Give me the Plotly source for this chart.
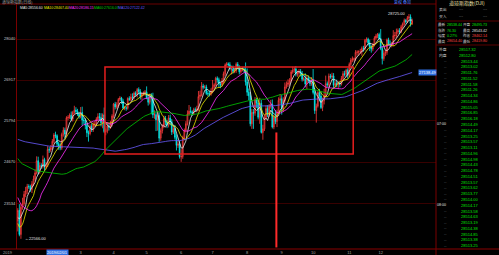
import plotly.graph_objects as go
import pandas as pd

W, H = 499, 255

# ---------------- data ----------------
hist_close = [
    25019, 25064, 25120, 25199, 25064, 25058, 25044, 25241, 25414, 25527, 25451, 25307, 25415,
    25333, 25326, 25463, 25502, 25629, 25583, 25509, 25313, 25187, 25299, 25162, 25558, 25669,
    25758, 25822, 25733, 25656, 25790, 26050, 26065, 26124, 25987, 25965,
    25952, 25974, 25995, 25916, 25857, 25971, 26145, 26154, 26145, 26062, 26246, 26405, 26657,
    26562, 26492, 26385, 26440, 26439, 26458,
    26651, 26774, 26828, 26627, 26447, 26486, 26431, 25598, 25053, 25340, 25250, 25798, 25706,
    25379, 25444, 25317, 25191, 24584, 24985, 24688, 24443, 24874, 25116,
    25380, 25271, 25462, 25636, 26180, 26191, 25989, 25387, 25287, 25080, 25290, 25413, 25017,
    24465, 24465, 24286, 24640, 24748, 25366, 25339, 25539,
    25826, 25027, 24947, 24389, 24424, 24370, 24527, 24597, 24100, 24101, 23592, 23675, 23324,
    22860, 22446, 21792, 22878, 23138, 23062, 23327,
]

close = [
    23346, 22686, 23433, 23531, 23787, 23879, 24001, 23996, 23910, 24066, 24207, 24370, 24706, 24405, 24575, 24554, 24737, 24528, 24580, 25014, 24999,
    25064, 25239, 25411, 25390, 25169, 25106, 25053, 25425, 25543, 25439, 25883, 25891, 25954, 25850, 26031, 26091, 26057, 25985, 25916,
    26026, 25819, 25806, 25673, 25473, 25450, 25650, 25554, 25702, 25709, 25849, 25914, 25887, 25745, 25962, 25502, 25516, 25657, 25625, 25717, 25929,
    26258, 26180, 26219, 26385, 26425, 26341, 26150, 26157, 26143, 26412, 26384, 26452, 26450, 26559, 26511, 26656, 26597, 26462, 26543, 26554, 26592,
    26430, 26307, 26505, 26438, 25965, 25968, 25828, 25942, 25324, 25532, 25648, 25862, 25764, 25679, 25877, 25776, 25490, 25585, 25347, 25126, 25169, 24815,
    24819, 25332, 25539, 25720, 25984, 26062, 26048, 26004, 26106, 26090, 26112, 26465, 26504, 26753, 26719, 26727, 26548, 26537, 26526, 26600,
    26717, 26786, 26966, 26922, 26806, 26783, 26860, 27088, 27332, 27359, 27335, 27219, 27223, 27154, 27171, 27349, 27270, 27140, 27192, 27221, 27198, 26864,
    26583, 26485, 25718, 26030, 26008, 26378, 26287, 25897, 26280, 25480, 25579, 25886, 26136, 25962, 26202, 26253, 25629, 25899, 25778, 26036, 26363, 26403,
    26118, 26355, 26728, 26797, 26836, 26909, 27137, 27182, 27220, 27076, 27111, 27147, 27095, 26935, 26949, 26808, 26970, 26891, 26820, 26917,
    26573, 26079, 26201, 26573, 26478, 26164, 26347, 26497, 26817, 26787, 27024, 27001, 27026, 26770, 26828, 26788, 26834, 26806, 26958, 27091, 27071, 27186, 27046,
    27347, 27462, 27492, 27493, 27675, 27681, 27691, 27691, 27784, 27782, 28005, 28036, 27934, 27821, 27766, 27876, 28066, 28122, 28164, 28051,
    27783, 27503, 27650, 27677, 28015, 27910, 27881, 27911, 28132, 28135, 28235, 28268, 28240, 28377, 28455, 28551, 28516, 28622, 28645, 28462, 28538,
]

open_ = [
    23058, 23346, 22686, 23433, 23531, 23787, 23879, 24001, 23996, 23910, 24066, 24207, 24370, 24706, 24405, 24575, 24554, 24737, 24528, 24580, 25014,
    24999, 25064, 25239, 25411, 25390, 25169, 25106, 25053, 25425, 25543, 25439, 25883, 25891, 25954, 25850, 26031, 26091, 26057, 25985,
    25916, 26026, 25819, 25806, 25673, 25473, 25450, 25650, 25554, 25702, 25709, 25849, 25914, 25887, 25745, 25962, 25502, 25516, 25657, 25625, 25717,
    25929, 26258, 26180, 26219, 26385, 26425, 26341, 26150, 26157, 26143, 26412, 26384, 26452, 26450, 26559, 26511, 26656, 26597, 26462, 26543, 26554,
    26592, 26430, 26307, 26505, 26438, 25965, 25968, 25828, 25942, 25324, 25532, 25648, 25862, 25764, 25679, 25877, 25776, 25490, 25585, 25347, 25126, 25169,
    24815, 24819, 25332, 25539, 25720, 25984, 26062, 26048, 26004, 26106, 26090, 26112, 26465, 26504, 26753, 26719, 26727, 26548, 26537, 26526,
    26600, 26717, 26786, 26966, 26922, 26806, 26783, 26860, 27088, 27332, 27359, 27335, 27219, 27223, 27154, 27171, 27349, 27270, 27140, 27192, 27221, 27198,
    26864, 26583, 26485, 25718, 26030, 26008, 26378, 26287, 25897, 26280, 25480, 25579, 25886, 26136, 25962, 26202, 26253, 25629, 25899, 25778, 26036, 26363,
    26403, 26118, 26355, 26728, 26797, 26836, 26909, 27137, 27182, 27220, 27076, 27111, 27147, 27095, 26935, 26949, 26808, 26970, 26891, 26820,
    26917, 26573, 26079, 26201, 26573, 26478, 26164, 26347, 26497, 26817, 26787, 27024, 27001, 27026, 26770, 26828, 26788, 26834, 26806, 26958, 27091, 27071, 27186,
    27046, 27347, 27462, 27492, 27493, 27675, 27681, 27691, 27691, 27784, 27782, 28005, 28036, 27934, 27821, 27766, 27876, 28066, 28122, 28164,
    28051, 27783, 27503, 27650, 27677, 28015, 27910, 27881, 27911, 28132, 28135, 28235, 28268, 28240, 28377, 28455, 28551, 28516, 28622, 28645, 28462,
]

wick_up = [
    60, 170, 80, 160, 90, 110, 70, 60, 50, 80, 90, 100, 120, 110, 80, 60, 110, 50, 80, 90, 70,
    70, 60, 50, 90, 40, 60, 80, 50, 80, 70, 40, 60, 50, 100, 40, 120, 80, 70, 60,
    150, 160, 70, 60, 60, 60, 50, 80, 60, 80, 50, 90, 100, 120, 40, 200, 70, 90, 60, 80, 50,
    30, 60, 90, 40, 50, 30, 60, 50, 40, 30, 60, 90, 100, 40, 50, 40, 60, 70, 30, 50, 50,
    150, 60, 40, 50, 130, 120, 80, 100, 90, 60, 60, 80, 70, 60, 80, 90, 70, 80, 100, 80, 70, 90,
    200, 60, 50, 70, 100, 170, 120, 40, 50, 60, 100, 150, 120, 110, 60, 50, 60, 70, 80, 90,
    200, 40, 40, 50, 60, 50, 110, 60, 40, 50, 40, 70, 60, 90, 60, 50, 60, 50, 40, 50, 50, 200,
    370, 100, 100, 90, 90, 70, 50, 100, 150, 90, 110, 80, 80, 90, 60, 120, 130, 60, 190, 70, 80, 130,
    100, 90, 120, 80, 100, 60, 50, 100, 60, 80, 60, 70, 70, 70, 60, 150, 80, 70, 90, 80,
    300, 120, 70, 40, 100, 120, 90, 180, 220, 60, 70, 60, 90, 80, 60, 100, 50, 50, 70, 70, 80, 40, 50,
    50, 60, 70, 40, 60, 50, 40, 80, 50, 70, 40, 50, 40, 90, 50, 60, 50, 60, 40, 50,
    260, 60, 80, 60, 40, 60, 90, 50, 150, 100, 90, 60, 70, 50, 40, 50, 40, 50, 80, 70, 60,
]

wick_dn = [
    290, 50, 120, 70, 60, 80, 90, 60, 60, 90, 60, 50, 40, 80, 60, 70, 60, 100, 60, 50, 80,
    60, 50, 60, 70, 90, 100, 60, 50, 60, 120, 80, 70, 40, 60, 70, 50, 60, 50, 60,
    50, 150, 90, 110, 120, 220, 50, 60, 60, 70, 60, 60, 80, 100, 150, 40, 100, 60, 90, 50, 70,
    60, 70, 50, 60, 40, 80, 40, 60, 70, 40, 40, 50, 90, 70, 50, 70, 80, 80, 90, 60, 70,
    40, 90, 60, 460, 90, 110, 310, 300, 100, 70, 80, 50, 90, 80, 60, 100, 80, 50, 60, 140, 70, 50,
    140, 60, 70, 60, 50, 40, 50, 70, 50, 50, 60, 40, 90, 40, 60, 40, 40, 70, 60, 40,
    50, 60, 40, 80, 80, 90, 50, 40, 60, 50, 50, 40, 150, 60, 50, 60, 60, 70, 50, 40, 70, 100,
    100, 120, 70, 140, 430, 70, 140, 60, 180, 30, 200, 60, 40, 60, 50, 70, 40, 60, 70, 150, 50, 100,
    150, 80, 60, 50, 70, 80, 60, 50, 70, 60, 70, 100, 80, 60, 50, 90, 140, 60, 70, 60,
    50, 90, 330, 40, 150, 40, 100, 100, 40, 70, 60, 50, 70, 80, 60, 70, 120, 90, 40, 70, 60, 80, 90,
    50, 60, 60, 70, 50, 80, 100, 60, 110, 90, 60, 60, 70, 110, 100, 60, 40, 40, 60, 30,
    50, 160, 60, 80, 70, 50, 60, 70, 60, 90, 60, 60, 60, 40, 70, 40, 50, 40, 50, 80, 40,
]

ma_periods = [5, 10, 20, 60, 120]
ma_colors = ["#e8e8e8", "#e8e800", "#ff30ff", "#00c800", "#6a5cff"]

month_idx = [40, 61, 82, 104, 124, 146, 168, 188, 211, 231]
month_lbl = ["3", "4", "5", "6", "7", "8", "9", "10", "11", "12"]

y_ticks = [28040, 26917, 25794, 24670, 23534]
y_tick_lbl = ["28040", "26917", "25794", "24670", "23534"]

quote_rows = [
    ("最新", "28538.44", "#00e000", "开盘", "28495.73", "#00e000"),
    ("涨跌", "76.30", "#00e000", "最高", "28543.42", "#e0e0e0"),
    ("幅度", "0.27%", "#00e000", "昨收", "28462.14", "#ff4040"),
    ("最高", "28654.40", "#ff4040", "最低", "28419.80", "#ff4040"),
]
tick_prices = [
    "28513.44", "28513.02", "28511.76", "28511.52", "28511.58", "28511.26", "28514.34",
    "28514.86", "28515.05", "28516.85", "28516.18", "28514.49", "28514.17", "28513.25",
    "28513.57", "28513.11", "28514.96", "28514.98", "28514.43", "28514.78", "28514.51",
    "28513.57", "28513.62", "28513.77", "28514.00", "28514.17", "28513.58", "28514.63",
    "28513.19", "28514.38", "28514.85", "28513.38", "28513.25",
]

# ---------------- derived ----------------
n = len(close)
xs = list(range(n))
high = [max(o, c) + u for o, c, u in zip(open_, close, wick_up)]
low = [min(o, c) - d for o, c, d in zip(open_, close, wick_dn)]
all_close = pd.Series(hist_close + close, dtype=float)
mas = {p: all_close.rolling(p).mean().iloc[len(hist_close):].tolist() for p in ma_periods}

def px(x):
    return x / W

def py(y):
    return 1 - y / H

CJK = "Noto Sans CJK SC"

fig = go.Figure()
fig.add_trace(go.Candlestick(
    x=xs, open=open_, high=high, low=low, close=close,
    increasing=dict(line=dict(color="#ff3c3c", width=0.8), fillcolor="#000000"),
    decreasing=dict(line=dict(color="#00e8e8", width=0.8), fillcolor="#00e8e8"),
    whiskerwidth=0, hoverinfo="skip",
))
for p, col in zip(ma_periods, ma_colors):
    fig.add_trace(go.Scatter(x=xs, y=mas[p], mode="lines",
                             line=dict(color=col, width=0.8), hoverinfo="skip"))

shapes = []
shapes.append(dict(type="rect", xref="x", yref="y", x0=55.5, x1=213.5, y0=24890, y1=27270,
                   line=dict(color="#e41e1e", width=1.5)))
shapes.append(dict(type="line", xref="x", yref="y", x0=164.6, x1=164.6, y0=22330, y1=25480,
                   line=dict(color="#ff2a2a", width=2)))
shapes.append(dict(type="line", xref="paper", yref="paper", x0=0, x1=px(436), y0=py(4), y1=py(4),
                   line=dict(color="#6a0000", width=1)))
shapes.append(dict(type="line", xref="paper", yref="paper", x0=0, x1=1, y0=py(249), y1=py(249),
                   line=dict(color="#8a0000", width=1)))
shapes.append(dict(type="line", xref="paper", yref="paper", x0=px(436), x1=px(436), y0=0, y1=1,
                   line=dict(color="#7a0000", width=1)))
for yy in [21, 45]:
    shapes.append(dict(type="line", xref="paper", yref="paper", x0=px(436), x1=1, y0=py(yy), y1=py(yy),
                       line=dict(color="#5a0000", width=1)))

ann = []

def text(x, y, s, color="#d0d0d0", size=4, anchor="left", bg=None, family=CJK):
    d = dict(xref="paper", yref="paper", x=px(x), y=py(y), text=s, showarrow=False,
             xanchor=anchor, yanchor="middle", font=dict(color=color, size=size, family=family),
             borderpad=0)
    if bg:
        d["bgcolor"] = bg
    ann.append(d)

# top bar
text(1, 2, "道琼斯指数(日线)", "#a0a0a0", 4)
text(393, 2, "复权 叠加", "#4a7cff", 4)
# MA legend
leg_x = [19, 43, 68, 93, 117]
for p, col, lx in zip(ma_periods, ma_colors, leg_x):
    text(lx, 8, f"MA{p}:{mas[p][-1]:.2f}", col, 3.5, family="Liberation Sans")
# high / low marks
imax = max(range(n), key=lambda i: high[i])
imin = min(range(n), key=lambda i: low[i])
ann.append(dict(xref="x", yref="y", x=imax - 1, y=high[imax], text=f"{high[imax]:.2f}",
                showarrow=False, xanchor="right", yanchor="middle",
                font=dict(color="#e0e0e0", size=4, family="Liberation Sans")))
ann.append(dict(xref="x", yref="y", x=imin + 1, y=low[imin], text=f"←{low[imin]:.2f}",
                showarrow=False, xanchor="left", yanchor="middle",
                font=dict(color="#e0e0e0", size=4, family="Liberation Sans")))
# bottom date labels
text(2, 252, "2019", "#a0a0a0", 4, family="Liberation Sans")
text(57, 252, "2019/02/01", "#ffffff", 4, anchor="center", bg="#2f6fe0", family="Liberation Sans")
# cursor price on right
text(427, 72, "27138.49", "#ffffff", 4, anchor="center", bg="#2f6fe0", family="Liberation Sans")

# right panel
text(467, 3.5, "道琼斯指数(DJI)", "#f0e6b0", 5, anchor="center")
text(438, 10, "卖出", "#d0d0d0", 3.8)
text(458, 10, "---", "#a0a0a0", 3.8)
text(482, 10, "---", "#a0a0a0", 3.8)
text(438, 17, "买入", "#d0d0d0", 3.8)
text(458, 17, "---", "#a0a0a0", 3.8)
text(482, 17, "---", "#a0a0a0", 3.8)
for (l1, v1, c1, l2, v2, c2), yy in zip(quote_rows, [25, 30.7, 36, 41.5]):
    text(437, yy, l1, "#d0d0d0", 3.6)
    text(445.5, yy, v1, c1, 3.6, family="Liberation Sans")
    text(462, yy, l2, "#d0d0d0", 3.6)
    text(470.5, yy, v2, c2, 3.6, family="Liberation Sans")
text(438, 50, "外盘", "#d0d0d0", 3.8)
text(467, 50, "28517.32", "#00e000", 4, anchor="center", family="Liberation Sans")
text(438, 55.5, "内盘", "#d0d0d0", 3.8)
text(467, 55.5, "28512.80", "#00e000", 4, anchor="center", family="Liberation Sans")
for k, v in enumerate(tick_prices):
    yy = 61 + k * 5.77
    if k in (11, 25):
        text(441, yy, "07:00" if k == 11 else "08:00", "#e0e0e0", 3.6, anchor="center",
             family="Liberation Sans")
    else:
        text(445, yy, "--", "#8a8a8a", 3.6, anchor="center", family="Liberation Sans")
    text(469, yy, v, "#00e000", 4, anchor="center", family="Liberation Sans")

fig.update_layout(
    width=W, height=H, margin=dict(l=0, r=0, t=0, b=0),
    paper_bgcolor="#000000", plot_bgcolor="#000000", showlegend=False,
    shapes=shapes, annotations=ann,
    xaxis=dict(domain=[px(17), px(436)], range=[-0.5, 266.2], rangeslider=dict(visible=False),
               showgrid=False, zeroline=False, showline=False,
               tickvals=month_idx, ticktext=month_lbl, ticks="",
               tickfont=dict(color="#a0a0a0", size=4, family="Liberation Sans")),
    yaxis=dict(domain=[1 - 249 / H, 1 - 4 / H], range=[22287, 28999], side="left",
               tickvals=y_ticks, ticktext=y_tick_lbl, ticks="",
               showgrid=True, gridcolor="#380000", gridwidth=1, zeroline=False,
               showline=True, linecolor="#7a0000", linewidth=1,
               tickfont=dict(color="#c8c8c8", size=4, family="Liberation Sans")),
)

fig.write_html("out.html")
